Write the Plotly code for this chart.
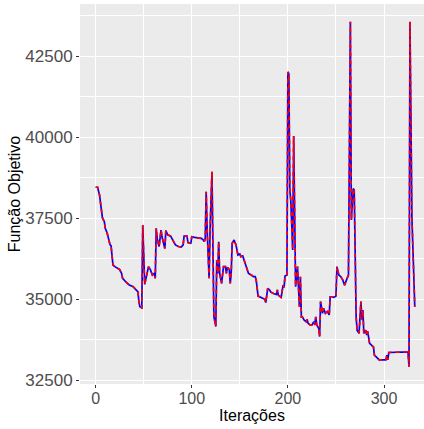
import plotly.graph_objects as go

# Objective-function trace over the iterations of the search
iteracoes = [
    0, 2, 4, 6, 7, 9, 10, 12, 13, 15, 16, 18, 20, 23, 25, 27, 28, 32, 35, 39,
    42, 44, 45, 46, 48, 49, 51, 53, 55, 57, 59, 61, 62, 63, 64, 66, 68, 69, 71, 72,
    73, 75, 78, 81, 83, 86, 89, 91, 92, 95, 96, 99, 100, 103, 107, 110, 112, 113, 114, 115,
    116, 118, 119, 121, 122, 123, 125, 126, 127, 128, 129, 131, 133, 135, 136, 137, 139, 140, 141, 142,
    144, 146, 148, 150, 151, 153, 155, 157, 159, 162, 164, 166, 167, 169, 172, 174, 176, 177, 179, 181,
    182, 185, 188, 189, 190, 193, 195, 196, 197, 199, 200, 201, 202, 203, 205, 206, 207, 208, 210, 211,
    212, 213, 214, 215, 217, 219, 220, 221, 223, 225, 227, 228, 229, 230, 232, 233, 234, 236, 237, 239,
    241, 243, 244, 246, 248, 250, 251, 253, 255, 257, 259, 261, 263, 265, 266, 268, 269, 271, 272, 274,
    276, 277, 278, 279, 281, 282, 283, 285, 287, 289, 290, 292, 295, 302, 303, 304, 305, 325, 326, 327,
    329, 332,
]
funcao_objetivo = [
    38450, 38450, 38210, 37800, 37510, 37385, 37180, 37030, 36870, 36670, 36645, 36050, 36000, 35950, 35910, 35790, 35640, 35510, 35430, 35380,
    35280, 35220, 34910, 34760, 34730, 37280, 35450, 35740, 36000, 35900, 35740, 35790, 35640, 37180, 36870, 36620, 37130, 36920, 36620, 36560,
    37110, 36980, 36940, 36780, 36670, 36620, 36600, 36670, 36940, 36940, 36740, 36720, 36920, 36900, 36880, 36870, 36820, 36770, 36870, 38310,
    37130, 35640, 37130, 38930, 36620, 34460, 34150, 36200, 35790, 36770, 35790, 35480, 36000, 36000, 35790, 35980, 35910, 35480, 35790, 36720,
    36820, 36670, 36360, 36390, 36310, 36330, 36150, 36000, 35790, 35740, 35690, 35690, 35590, 35090, 35050, 35020, 34990, 34890, 35330, 35280,
    35220, 35170, 35140, 35280, 35120, 35050, 35430, 35360, 35710, 35740, 42010, 41960, 38360, 38060, 36510, 40030, 36920, 35380, 36000, 35380,
    34760, 35690, 34450, 34450, 34350, 34300, 34370, 34250, 34200, 34200, 34300, 34200, 34450, 34200, 34100, 33840, 34920, 34560, 34710, 34560,
    34610, 34510, 35070, 35070, 35050, 35090, 36000, 35740, 35690, 35590, 35430, 35590, 35740, 43560, 37440, 38410, 38360, 34450, 34040, 33940,
    34920, 34350, 34660, 33940, 34040, 33890, 34000, 33630, 33580, 33520, 33270, 33220, 33120, 33120, 33270, 33120, 33350, 33370, 32910, 43560,
    37540, 34760,
]

x_ticks = [0, 100, 200, 300]
y_ticks = [32500, 35000, 37500, 40000, 42500]

fig = go.Figure()
fig.add_trace(go.Scatter(
    x=iteracoes, y=funcao_objetivo, mode="lines",
    line=dict(color="#0000FF", width=1.7), showlegend=False, hoverinfo="skip",
))
fig.add_trace(go.Scatter(
    x=iteracoes, y=funcao_objetivo, mode="lines",
    line=dict(color="#FF0000", width=1.7, dash="4px,4px"), showlegend=False, hoverinfo="skip",
))

axis_common = dict(
    showline=False, zeroline=False,
    gridcolor="#FFFFFF", gridwidth=1.1,
    ticks="outside", ticklen=3, tickwidth=1, tickcolor="#333333",
)

fig.update_layout(
    width=424, height=429,
    margin=dict(l=80, r=0, t=4, b=45),
    paper_bgcolor="#FFFFFF", plot_bgcolor="#EBEBEB",
    xaxis=dict(
        **axis_common,
        tickfont=dict(family="Liberation Sans", size=16, color="#4D4D4D"),
        ticklabelstandoff=-3,
        range=[-16.3, 341.6], tickvals=x_ticks,
        minor=dict(tickvals=[50, 150, 250], showgrid=True, gridcolor="#FFFFFF", gridwidth=0.5, ticks=""),
        title=dict(text="Iterações", font=dict(family="Liberation Sans", size=16, color="#000000"), standoff=0),
    ),
    yaxis=dict(
        **axis_common,
        tickfont=dict(family="Liberation Sans", size=17, color="#4D4D4D"),
        range=[32377, 44105], tickvals=y_ticks, tickformat="d",
        minor=dict(tickvals=[33750, 36250, 38750, 41250, 43750], showgrid=True, gridcolor="#FFFFFF", gridwidth=0.5, ticks=""),
        title=dict(text="Função Objetivo", font=dict(family="Liberation Sans", size=16, color="#000000"), standoff=0),
    ),
)

fig.write_html("out.html")
